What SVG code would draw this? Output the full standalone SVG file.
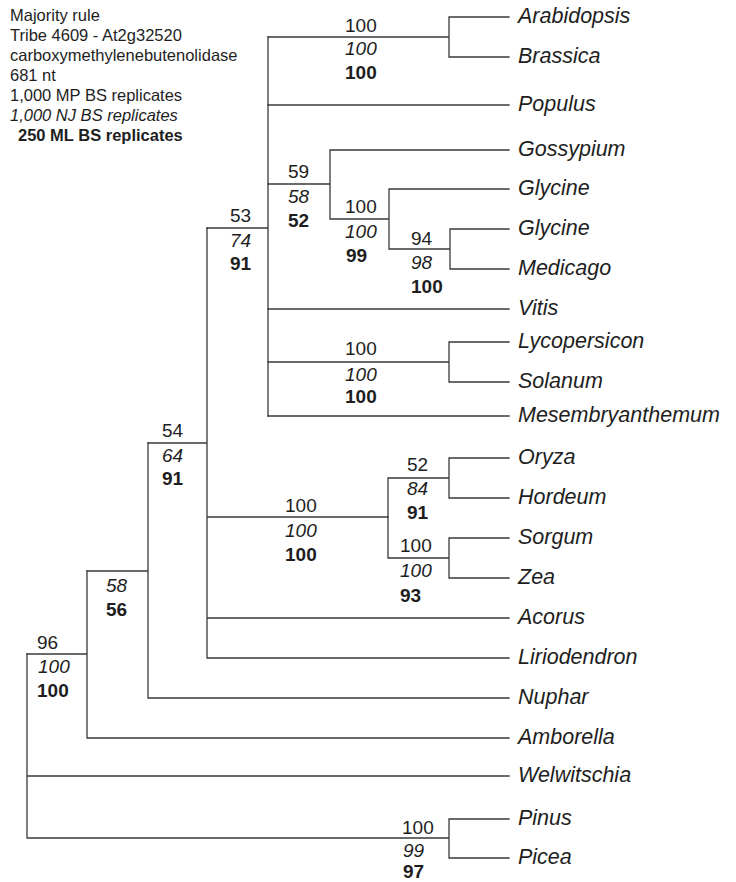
<svg xmlns="http://www.w3.org/2000/svg" width="736" height="882" viewBox="0 0 736 882">
<style>
.e{stroke:#3a3a3a;stroke-width:1.3;fill:none;stroke-linecap:square}
text{font-family:"Liberation Sans",Arial,sans-serif;fill:#1e1e1e}
.h{font-size:16.5px}
.sp{font-size:21.5px;font-style:italic}
.n{font-size:19px}
.i{font-style:italic}
.b{font-weight:bold}
</style>
<rect width="736" height="882" fill="#fff"/>
<g id="header">
<text class="h" x="10" y="21">Majority rule</text>
<text class="h" x="10" y="41">Tribe 4609 - At2g32520</text>
<text class="h" x="10" y="61">carboxymethylenebutenolidase</text>
<text class="h" x="10" y="81">681 nt</text>
<text class="h" x="10" y="101">1,000 MP BS replicates</text>
<text class="h i" x="10" y="121">1,000 NJ BS replicates</text>
<text class="h b" x="18" y="141">250 ML BS replicates</text>
</g>
<g id="connectors" class="e">
<path d="M27,654V838M27,776H509M27,838H449M449,819V858M449,819H509M449,858H509"/>
<path d="M27,654H87M87,571V738M87,738H509"/>
<path d="M87,571H148M148,443V698M148,698H509"/>
<path d="M148,443H207M207,228V658M207,618H509M207,658H509M207,517H388"/>
<path d="M388,478V558M388,478H449M449,458V498M449,458H509M449,498H509M388,558H449M449,538V578M449,538H509M449,578H509"/>
<path d="M207,228H268M268,37V416"/>
<path d="M268,37H449M449,17V57M449,17H509M449,57H509"/>
<path d="M268,105H509"/>
<path d="M268,184H330M330,150V219M330,150H509M330,219H389M389,189V249M389,189H509M389,249H450M450,229V269M450,229H509M450,269H509"/>
<path d="M268,309H509M268,362H449M449,342V382M449,342H509M449,382H509M268,416H509"/>
</g>
<g id="leaves">
<text class="sp" x="518" y="23">Arabidopsis</text>
<text class="sp" x="518" y="63">Brassica</text>
<text class="sp" x="518" y="111">Populus</text>
<text class="sp" x="518" y="156">Gossypium</text>
<text class="sp" x="518" y="195">Glycine</text>
<text class="sp" x="518" y="235">Glycine</text>
<text class="sp" x="518" y="275">Medicago</text>
<text class="sp" x="518" y="315">Vitis</text>
<text class="sp" x="518" y="348">Lycopersicon</text>
<text class="sp" x="518" y="388">Solanum</text>
<text class="sp" x="518" y="422">Mesembryanthemum</text>
<text class="sp" x="518" y="464">Oryza</text>
<text class="sp" x="518" y="504">Hordeum</text>
<text class="sp" x="518" y="544">Sorgum</text>
<text class="sp" x="518" y="584">Zea</text>
<text class="sp" x="518" y="624">Acorus</text>
<text class="sp" x="518" y="664">Liriodendron</text>
<text class="sp" x="518" y="704">Nuphar</text>
<text class="sp" x="518" y="744">Amborella</text>
<text class="sp" x="518" y="782">Welwitschia</text>
<text class="sp" x="518" y="825">Pinus</text>
<text class="sp" x="518" y="864">Picea</text>
</g>
<g id="support">
<text class="n" x="345" y="32">100</text><text class="n i" x="345" y="55">100</text><text class="n b" x="345" y="79">100</text>
<text class="n" x="288" y="178">59</text><text class="n i" x="288" y="203">58</text><text class="n b" x="288" y="227">52</text>
<text class="n" x="345" y="213">100</text><text class="n i" x="345" y="238">100</text><text class="n b" x="346" y="262">99</text>
<text class="n" x="411" y="245">94</text><text class="n i" x="411" y="269">98</text><text class="n b" x="411" y="293">100</text>
<text class="n" x="345" y="355">100</text><text class="n i" x="345" y="381">100</text><text class="n b" x="345" y="403">100</text>
<text class="n" x="230" y="222">53</text><text class="n i" x="230" y="247">74</text><text class="n b" x="230" y="270">91</text>
<text class="n" x="162" y="437">54</text><text class="n i" x="162" y="462">64</text><text class="n b" x="162" y="485">91</text>
<text class="n" x="285" y="512">100</text><text class="n i" x="285" y="537">100</text><text class="n b" x="285" y="561">100</text>
<text class="n" x="407" y="471">52</text><text class="n i" x="407" y="495">84</text><text class="n b" x="407" y="519">91</text>
<text class="n" x="400" y="552">100</text><text class="n i" x="400" y="577">100</text><text class="n b" x="400" y="602">93</text>
<text class="n i" x="106" y="592">58</text><text class="n b" x="106" y="616">56</text>
<text class="n" x="37" y="649">96</text><text class="n i" x="38" y="673">100</text><text class="n b" x="37" y="697">100</text>
<text class="n" x="402" y="834">100</text><text class="n i" x="403" y="857">99</text><text class="n b" x="403" y="878">97</text>
</g>
</svg>
